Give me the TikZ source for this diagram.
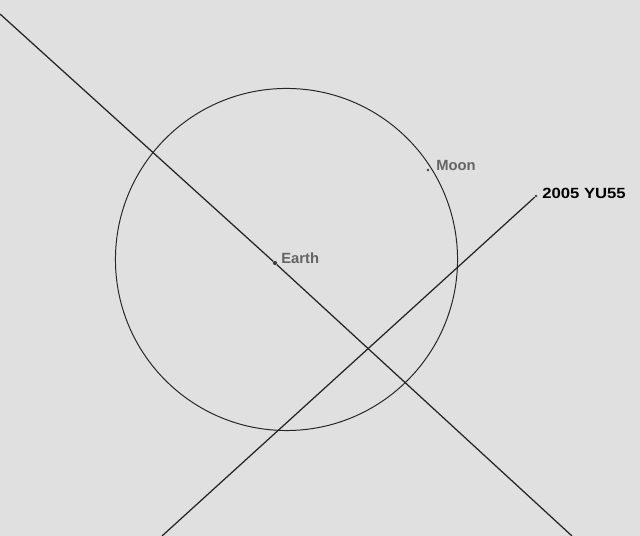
\documentclass[tikz,border=0pt]{standalone}
\usepackage{fontspec}
\setmainfont{Liberation Sans}
\usetikzlibrary{positioning}
\definecolor{bg}{RGB}{224,224,224}
\definecolor{labelgray}{RGB}{100,100,100}
\tikzset{
  body/.style={circle,fill=black!75,inner sep=0pt,minimum size=3pt},
  tag/.style={anchor=west,inner sep=0pt,font=\bfseries\fontsize{10.5}{12}\selectfont},
  track/.style={line width=0.9pt,black!85}
}
\begin{document}
\begin{tikzpicture}[x=0.025cm,y=-0.025cm]
          \fill[bg] (0,0) rectangle (640,536);
          \useasboundingbox (0,0) rectangle (640,536);
          % orbit of the moon
          \draw[line width=0.7pt,black!85] (286.5,259.5) circle[radius=4.275cm];
          \coordinate (nw) at (0,14);
          \coordinate (se) at (572,536);
          \coordinate (sw) at (162,536);
          \node[body] (earth) at (275,263) {};
          \node[body,minimum size=2pt] (moon) at (428,170) {};
          \node[body,minimum size=2pt] (yu) at (536,196) {};
          \draw[track] (nw) -- (earth) -- (se);
          \draw[track] (sw) -- (yu);
          \node[tag,text=labelgray] (earthlbl) at (281,258) {Earth};
          \node[tag,text=labelgray] (moonlbl) at (436,165) {Moon};
          \node[tag,text=black] (yulbl) at (542,193) {\scalebox{1.13}[1]{2005 YU55}};
\end{tikzpicture}
\end{document}
